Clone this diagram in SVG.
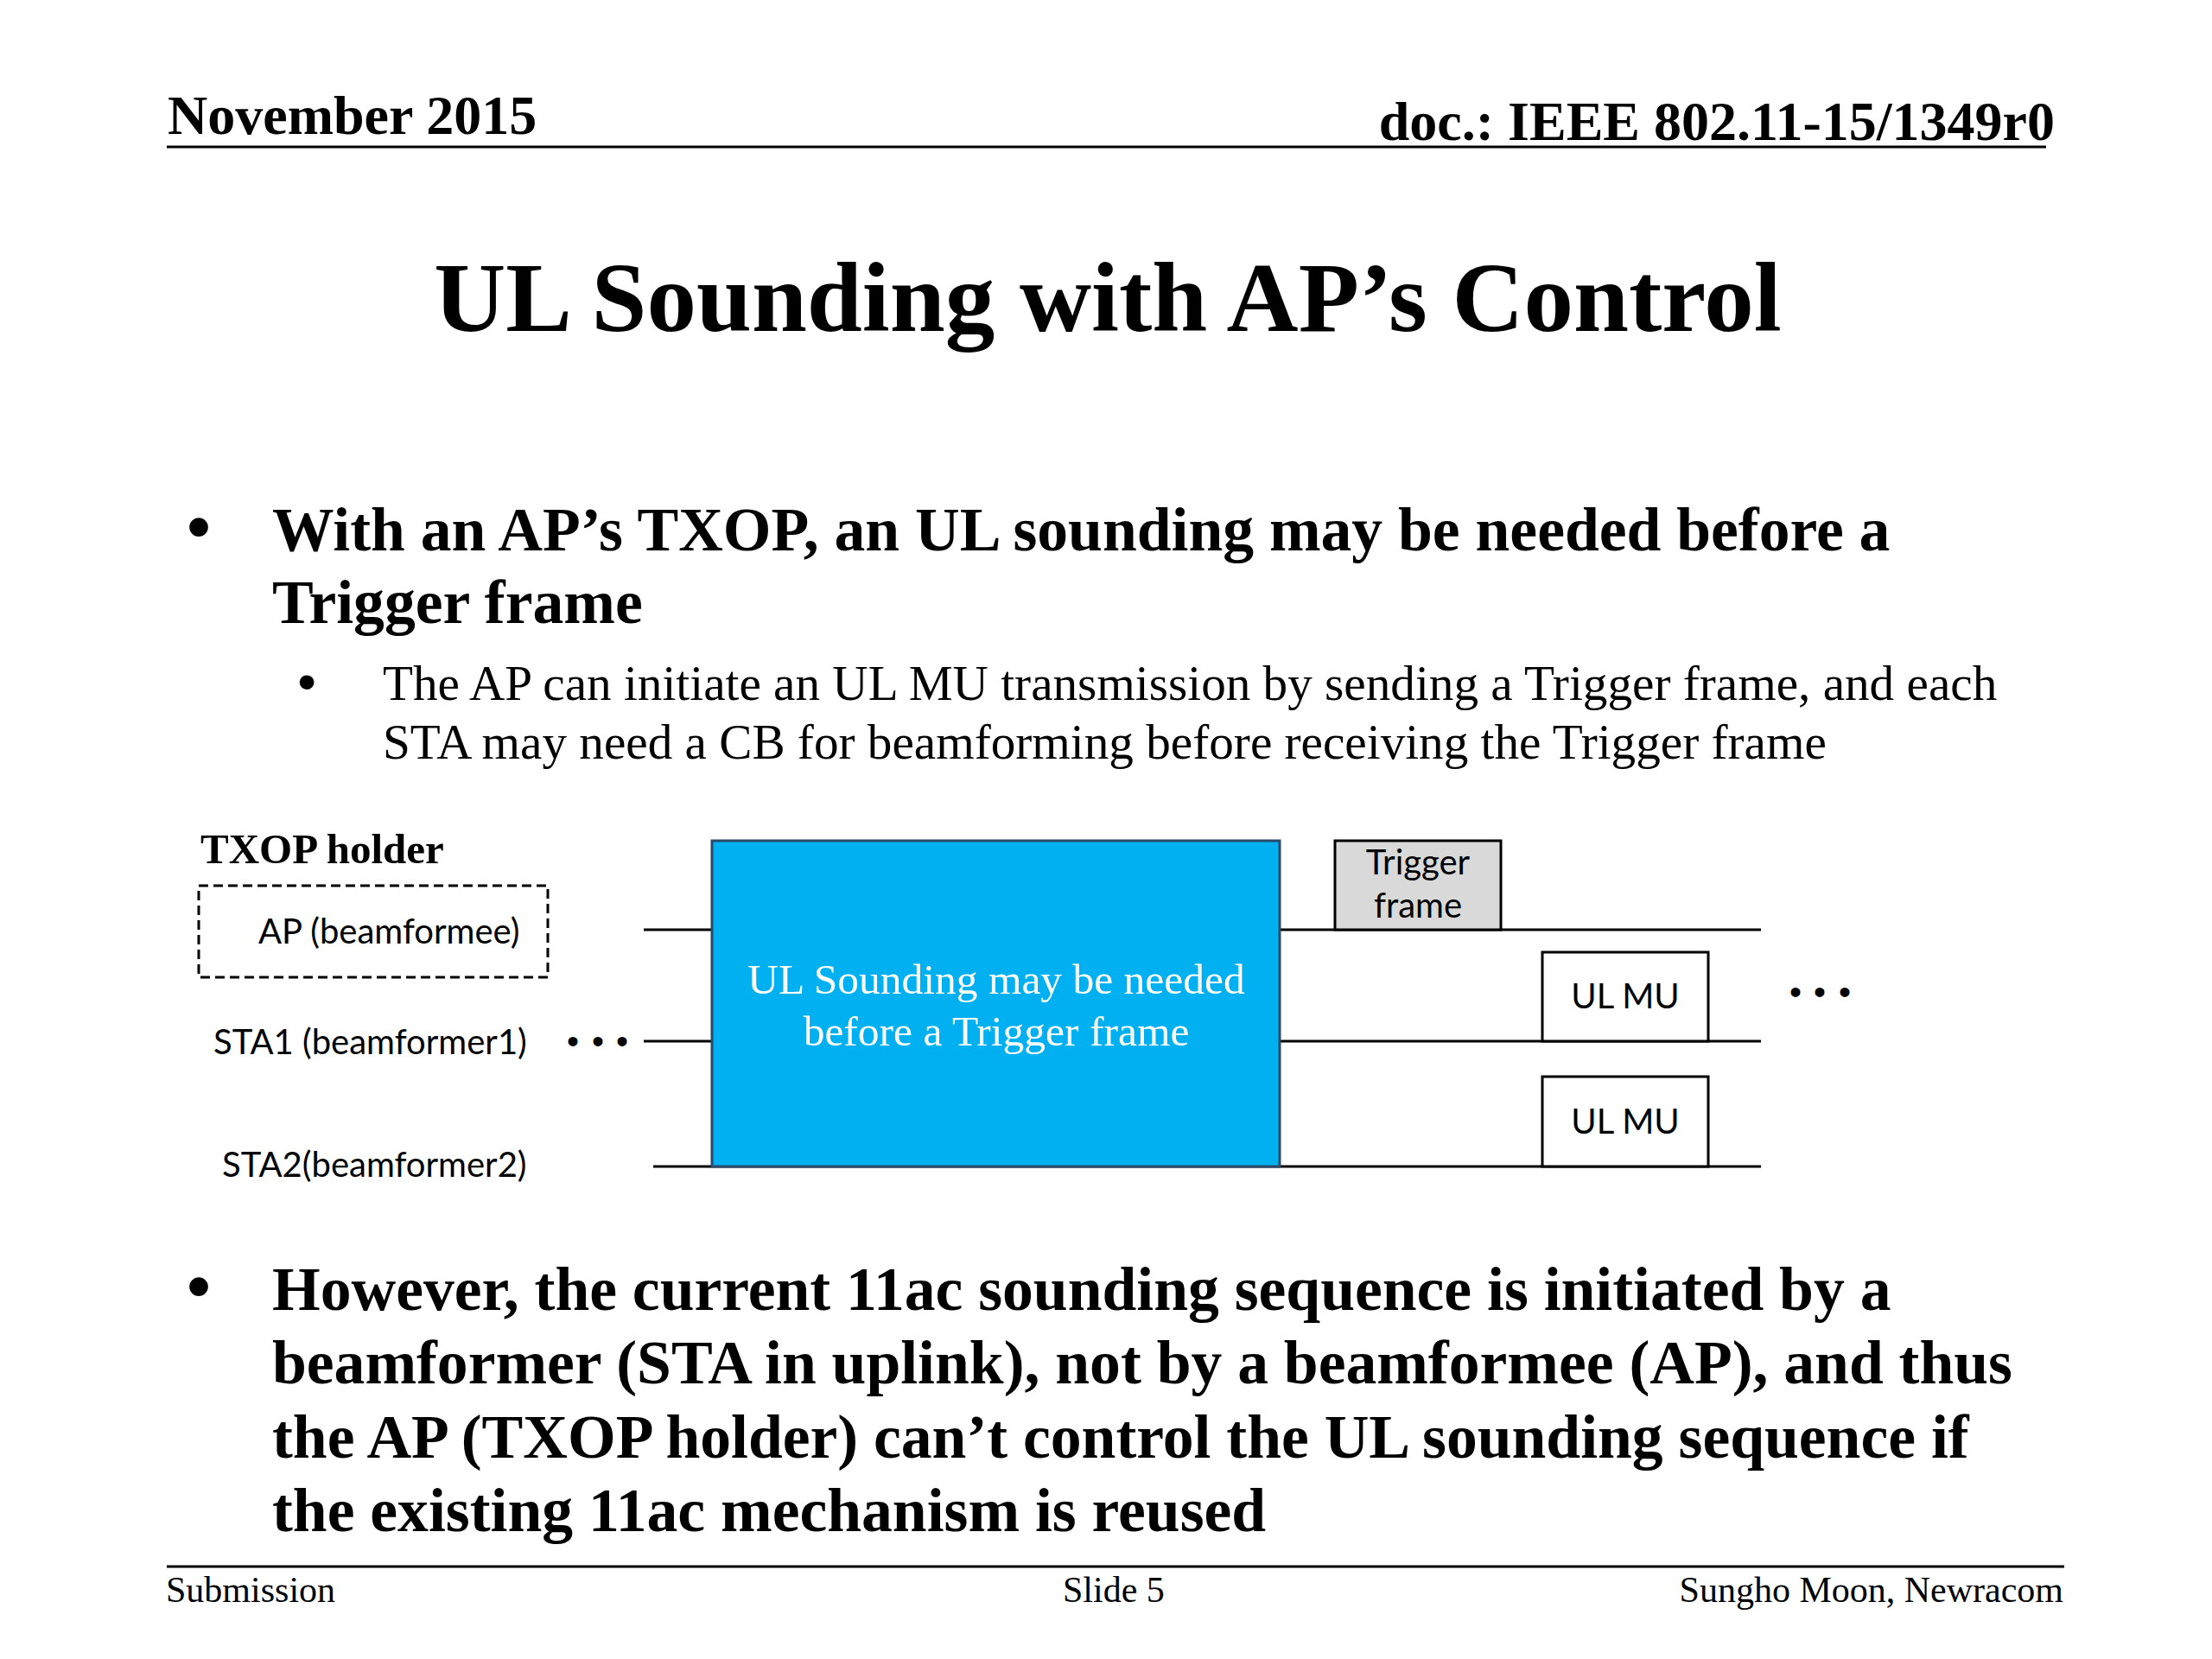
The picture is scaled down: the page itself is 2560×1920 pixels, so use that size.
<svg xmlns="http://www.w3.org/2000/svg" width="2560" height="1920" viewBox="0 0 2560 1920">
<style>
.serif{font-family:"Liberation Serif","Times New Roman",serif;fill:#000}
.b{font-weight:bold}
.cal{font-family:Lato,"Liberation Sans",sans-serif;fill:#000;font-size:40px}
.ln{stroke:#000;stroke-width:3;fill:none}
.box{stroke:#000;stroke-width:3}
.bul{font-family:"Liberation Sans",Arial,sans-serif;fill:#000;text-anchor:middle}
</style>
<rect width="2560" height="1920" fill="#fff"/>
<g id="header">
<text class="serif b" x="194" y="155" font-size="64">November 2015</text>
<text class="serif b" x="2378" y="162" font-size="64" text-anchor="end">doc.: IEEE 802.11-15/1349r0</text>
<line x1="193" y1="170" x2="2368" y2="170" stroke="#000" stroke-width="3"/>
</g>
<g id="title">
<text class="serif b" x="1282" y="383" font-size="115" text-anchor="middle">UL Sounding with AP’s Control</text>
</g>
<g id="bullet1">
<text class="bul" x="230" y="637" font-size="80">•</text>
<text class="serif b" x="315" y="637" font-size="71.6">With an AP’s TXOP, an UL sounding may be needed before a</text>
<text class="serif b" x="315" y="721" font-size="71.6">Trigger frame</text>
<text class="bul" x="355" y="810" font-size="62">•</text>
<text class="serif" x="443" y="810" font-size="57.2">The AP can initiate an UL MU transmission by sending a Trigger frame, and each</text>
<text class="serif" x="443" y="878" font-size="57.2">STA may need a CB for beamforming before receiving the Trigger frame</text>
</g>
<g id="connectors">
<line class="ln" x1="745" y1="1076" x2="2038" y2="1076"/>
<line class="ln" x1="745" y1="1205" x2="2038" y2="1205"/>
<line class="ln" x1="756" y1="1350" x2="2038" y2="1350"/>
</g>
<g id="txop-label">
<text class="serif b" x="232" y="999" font-size="49">TXOP holder</text>
</g>
<g id="ap-label">
<rect x="230" y="1025" width="404" height="106" fill="none" stroke="#000" stroke-width="3" stroke-dasharray="11 6"/>
<text class="cal" x="299" y="1092">AP (beamformee)</text>
</g>
<g id="sta1-label">
<text class="cal" x="247" y="1220" font-size="39.5">STA1 (beamformer1)</text>
<text class="bul" font-size="40" y="1219" x="663 692 720">•••</text>
</g>
<g id="sta2-label">
<text class="cal" x="257" y="1362" font-size="39.5">STA2(beamformer2)</text>
</g>
<g id="sounding">
<rect x="824" y="973" width="657" height="377" fill="#00B0F0" stroke="#2a4a6a" stroke-width="3"/>
<text class="serif" x="1153" y="1150" font-size="49.5" text-anchor="middle" style="fill:#fff">UL Sounding may be needed</text>
<text class="serif" x="1153" y="1210" font-size="49.5" text-anchor="middle" style="fill:#fff">before a Trigger frame</text>
</g>
<g id="trigger">
<rect class="box" x="1545" y="973" width="192" height="103" fill="#D9D9D9"/>
<text class="cal" x="1641" y="1012" text-anchor="middle">Trigger</text>
<text class="cal" x="1641" y="1062" text-anchor="middle">frame</text>
</g>
<g id="ulmu1">
<rect class="box" x="1785" y="1102" width="192" height="103" fill="#fff"/>
<text class="cal" x="1881" y="1167" text-anchor="middle">UL MU</text>
</g>
<g id="ulmu2">
<rect class="box" x="1785" y="1246" width="192" height="104" fill="#fff"/>
<text class="cal" x="1881" y="1312" text-anchor="middle">UL MU</text>
</g>
<g id="more">
<text class="bul" font-size="40" y="1162" x="2078 2106 2135">•••</text>
</g>
<g id="bullet2">
<text class="bul" x="230" y="1516" font-size="80">•</text>
<text class="serif b" x="315" y="1516" font-size="71.6">However, the current 11ac sounding sequence is initiated by a</text>
<text class="serif b" x="315" y="1601" font-size="71.6">beamformer (STA in uplink), not by a beamformee (AP), and thus</text>
<text class="serif b" x="315" y="1687" font-size="71.6">the AP (TXOP holder) can’t control the UL sounding sequence if</text>
<text class="serif b" x="315" y="1772" font-size="71.6">the existing 11ac mechanism is reused</text>
</g>
<g id="footer">
<line x1="193" y1="1813" x2="2389" y2="1813" stroke="#000" stroke-width="3"/>
<text class="serif" x="192" y="1854" font-size="42">Submission</text>
<text class="serif" x="1230" y="1854" font-size="42">Slide 5</text>
<text class="serif" x="2388" y="1854" font-size="42" text-anchor="end">Sungho Moon, Newracom</text>
</g>
</svg>
